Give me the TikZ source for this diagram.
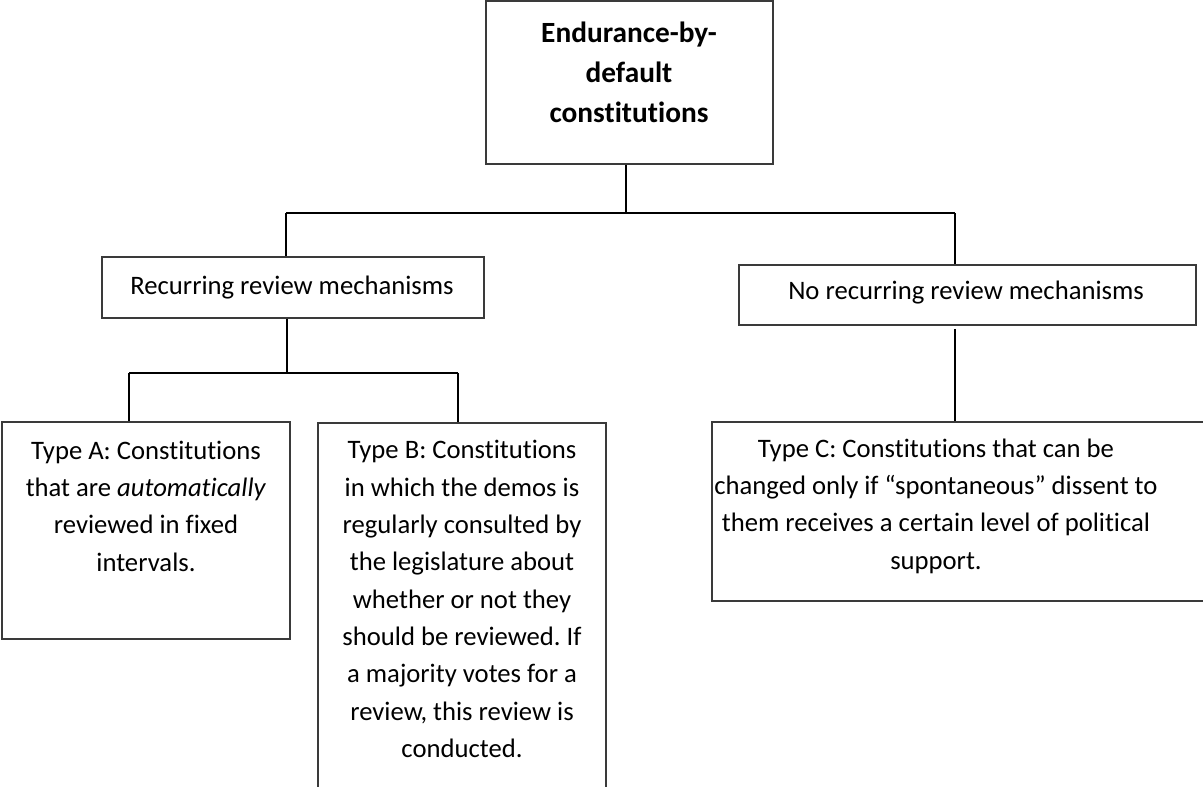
\documentclass[tikz,border=0pt]{standalone}
\usepackage{fontspec}
\setmainfont{Carlito}[Ligatures={NoCommon}]
\frenchspacing
\usetikzlibrary{fit}
\definecolor{boxc}{HTML}{3A3A3A}
\tikzset{
  box/.style={draw=boxc, line width=1pt, inner sep=0pt, rectangle},
  txt/.style={align=center, inner sep=0pt, font=\fontsize{20}{28}\selectfont},
  btxt/.style={align=center, inner sep=0pt, font=\fontsize{22}{30}\selectfont\bfseries},
  conn/.style={draw=black, line width=1.5pt}
}
\begin{document}
\begin{tikzpicture}[x=0.75pt,y=-0.75pt]
\useasboundingbox (0,0) rectangle (1203,787);
\clip (0,0) rectangle (1203,787);
% corner coordinates
\coordinate (t1) at (486,1);   \coordinate (t2) at (773,164);
\coordinate (r1) at (102,257); \coordinate (r2) at (484,318);
\coordinate (n1) at (739,265); \coordinate (n2) at (1196,325);
\coordinate (a1) at (2,422);   \coordinate (a2) at (290,639);
\coordinate (b1) at (318,423); \coordinate (b2) at (606,792);
\coordinate (c1) at (712,422); \coordinate (c2) at (1212,601);
% boxes
\node[box, fit=(t1)(t2)] (top) {};
\node[box, fit=(r1)(r2)] (rec) {};
\node[box, fit=(n1)(n2)] (norec) {};
\node[box, fit=(a1)(a2)] (typeA) {};
\node[box, fit=(b1)(b2)] (typeB) {};
\node[box, fit=(c1)(c2)] (typeC) {};
% texts
\node[btxt] (toptxt) at (629,72) {Endurance-by-\\default\\constitutions};
\node[txt] (rectxt) at (292,288) {Recurring review mechanisms};
\node[txt] (norectxt) at (966,293) {No recurring review mechanisms};
\node[txt] (atxt) at (146,506) {Type A: Constitutions\\that are \textit{automatically}\\reviewed in fixed\\intervals.};
\node[txt] (btxt) at (462,599) {Type B: Constitutions\\in which the demos is\\regularly consulted by\\the legislature about\\whether or not they\\should be reviewed. If\\a majority votes for a\\review, this review is\\conducted.};
\node[txt] (ctxt) at (936,506) {Type C: Constitutions that can be\\changed only if “spontaneous” dissent to\\them receives a certain level of political\\support.};
% junction coordinates
\coordinate (jl) at (286,213);
\coordinate (jr) at (955,213);
\coordinate (jt) at (626,213);
\coordinate (kt) at (287,373);
\coordinate (kl) at (129,373);
\coordinate (kr) at (458,373);
% connectors
\draw[conn] (jt |- top.south) -- (jt);
\draw[conn] (jl) -- (jr);
\draw[conn] (jl) -- (jl |- rec.north);
\draw[conn] (jr) -- (jr |- norec.north);
\draw[conn] (kt |- rec.south) -- (kt);
\draw[conn] (kl) -- (kr);
\draw[conn] (kl) -- (kl |- typeA.north);
\draw[conn] (kr) -- (kr |- typeB.north);
\draw[conn] ([yshift=-2.5pt]jr |- norec.south) -- (jr |- typeC.north);
\end{tikzpicture}
\end{document}
